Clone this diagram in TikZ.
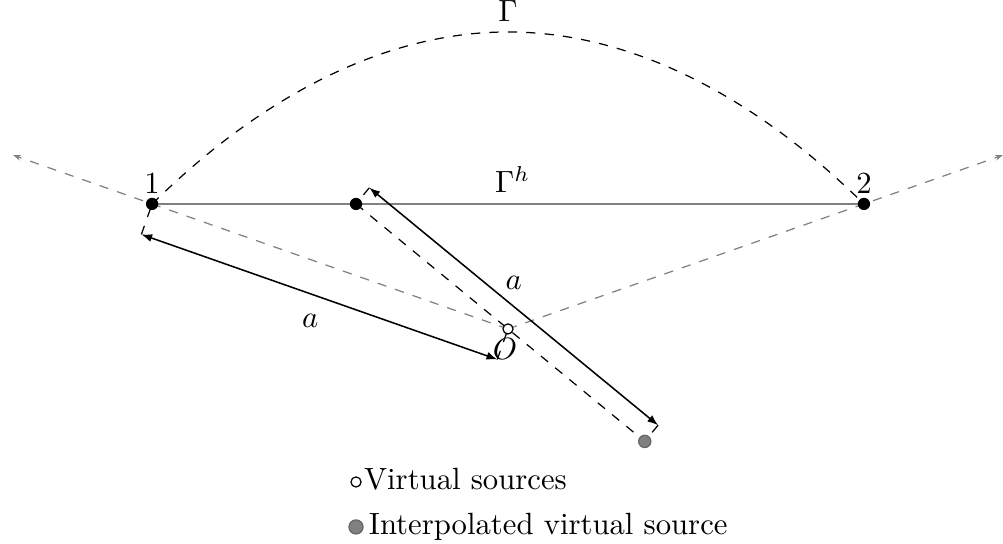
\documentclass[tikz,border=0pt]{standalone}
\usepackage{amsmath}
\usepackage{amssymb}
\usetikzlibrary{arrows.meta}
\usetikzlibrary{calc}
\usetikzlibrary{positioning}

\tikzset{
  source/.style = {circle, fill=black, inner sep=0pt, minimum size=4pt},
  virtual/.style = {circle, draw=black, fill=white, inner sep=0pt, minimum size=3.3pt, line width=0.4pt},
  interp/.style = {circle, draw=black!60, fill=gray, inner sep=0pt, minimum size=4pt, line width=0.4pt},
  ray/.style = {gray, dashed, -{Stealth[length=2.5pt]}},
  dimline/.style = {line width=0.5pt, {Latex[length=3.5pt]}-{Latex[length=3.5pt]}},
  legendtext/.style = {inner sep=1pt, anchor=base west, yshift=-2.4pt}
}

\begin{document}
\begin{tikzpicture}

    \useasboundingbox (-5.816,-2.461) rectangle (5.667,3.766);

    % geometry
    \coordinate (O) at (0,0);
    \coordinate (P1) at (-4.075,1.431);
    \coordinate (P2) at (4.075,1.431);
    \coordinate (P3) at (-1.740,1.431);
    \coordinate (G) at (0,3.400);
    \coordinate (I) at ($(P3)!4.28cm!(O)$);

    \coordinate (R1) at ($(O)!1.39!(P1)$);
    \coordinate (R2) at ($(O)!1.39!(P2)$);

    \coordinate (P1d) at ($(P1)!0.37cm!-90:(O)$);
    \coordinate (Od) at ($(O)!0.37cm!90:(P1)$);
    \coordinate (P3d) at ($(P3)!0.24cm!90:(I)$);
    \coordinate (Id) at ($(I)!0.24cm!-90:(P3)$);

    % rays from O through the end points
    \draw[ray] (O) -- (R1);
    \draw[ray] (O) -- (R2);

    % boundaries
    \draw[gray, line width=0.7pt] (P1) -- (P2) node[pos=0.5, above, xshift=1.5pt, text=black] (gammah) {$\Gamma^h$};
    \draw[dashed] (P1) parabola bend (G) (P2);
    \node[above] (gamma) at (G) {$\Gamma$};

    % interpolation line
    \draw[dashed] (P3) -- (I);

    % dimension lines
    \draw[dashed] (P1d) -- (P1);
    \draw[dashed] (Od) -- (O);
    \draw[dimline] (P1d) -- (Od) node[midway, below=2pt, xshift=-3pt] (a1) {$a$};

    \draw[dashed] (P3d) -- (P3);
    \draw[dashed] (Id) -- (I);
    \draw[dimline] (P3d) -- (Id) node[midway, above=2pt] (a2) {$a$};

    % points
    \node[source, label={[inner sep=1pt]above:1}] (s1) at (P1) {};
    \node[source, label={[inner sep=1pt]above:2}] (s2) at (P2) {};
    \node[source] (s3) at (P3) {};
    \node[virtual, label={[inner sep=1pt, xshift=-1pt]below:$O$}] (o) at (O) {};
    \node[interp] (si) at (I) {};

    % legend
    \node[virtual] (legv) at (-1.740,-1.752) {};
    \node[right=0pt of legv, legendtext, inner sep=0.6pt] (legvtext) {Virtual sources};
    \node[interp, minimum size=4.6pt] (legi) at (-1.740,-2.267) {};
    \node[right=0pt of legi, legendtext, inner sep=1.5pt] (legitext) {Interpolated virtual source};

\end{tikzpicture}
\end{document}
